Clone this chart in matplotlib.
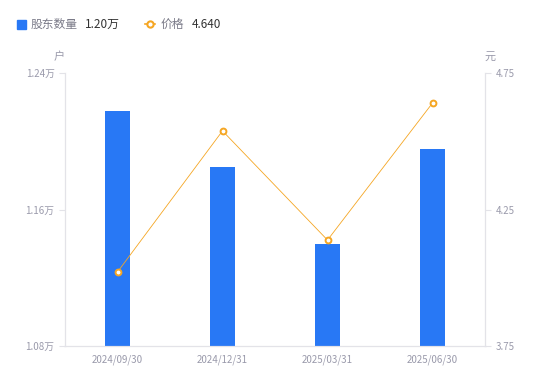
import matplotlib.pyplot as plt
import numpy as np
from matplotlib.lines import Line2D

plt.rcParams['font.family'] = ['Noto Sans CJK SC', 'DejaVu Sans']

dates = ["2024/09/30", "2024/12/31", "2025/03/31", "2025/06/30"]
holders = [1.2177, 1.1849, 1.1398, 1.1955]   # 万户
price = [4.021, 4.538, 4.138, 4.640]          # 元
left_ticks = [1.08, 1.16, 1.24]
right_ticks = [3.75, 4.25, 4.75]

bar_c = "#2878F5"
line_c = "#F5A623"
grid_c = "#E3E3E8"
txt_c = "#9A9AAB"

fig = plt.figure(figsize=(5.5, 3.81), dpi=100)
ax = fig.add_axes([65/550, 35/381, 420/550, 273/381])
x = np.arange(len(dates))
ax.bar(x, holders, width=0.24, color=bar_c, zorder=2)
ax.set_xlim(-0.5, 3.5)
ax.set_ylim(left_ticks[0], left_ticks[-1])
ax.set_yticks(left_ticks)
ax.set_yticklabels([f"{v:.2f}万" for v in left_ticks])
ax.set_xticks(x)
ax.set_xticklabels(dates)

ax2 = ax.twinx()
ax2.plot(x, price, color=line_c, lw=0.6, marker="o", ms=4.2, mfc="white",
         mec=line_c, mew=1.4, zorder=3)
ax2.set_ylim(right_ticks[0], right_ticks[-1])
ax2.set_yticks(right_ticks)
ax2.set_yticklabels([f"{v:.2f}" for v in right_ticks])

for a in (ax, ax2):
    for s in a.spines.values():
        s.set_color(grid_c)
    a.spines['top'].set_visible(False)
    a.tick_params(colors=grid_c, labelcolor=txt_c, labelsize=7, length=4, width=0.8)
ax.tick_params(axis='x', length=0, pad=6)

fig.text(59/550, 1 - 57/381, "户", color=txt_c, fontsize=8, ha="center", va="center")
fig.text(490/550, 1 - 57/381, "元", color=txt_c, fontsize=8, ha="center", va="center")

# legend
ly = 1 - 24/381
fig.patches.append(plt.Rectangle((17/550, ly - 4.5/381), 9/550, 9/381,
                                 transform=fig.transFigure, color=bar_c))
fig.text(31/550, ly, "股东数量", color="#7A7A88", fontsize=8.5, va="center")
fig.text(85/550, ly, "1.20万", color="#333333", fontsize=8.5, va="center")
fig.lines.append(Line2D([145/550, 155/550], [ly, ly], transform=fig.transFigure,
                        color=line_c, lw=1.2))
fig.lines.append(Line2D([150/550], [ly], transform=fig.transFigure, color=line_c,
                        marker="o", ms=4.5, mfc="white", mew=1.5, lw=0))
fig.text(161/550, ly, "价格", color="#7A7A88", fontsize=8.5, va="center")
fig.text(192/550, ly, "4.640", color="#333333", fontsize=8.5, va="center")

fig.savefig("out.png", dpi=100)
